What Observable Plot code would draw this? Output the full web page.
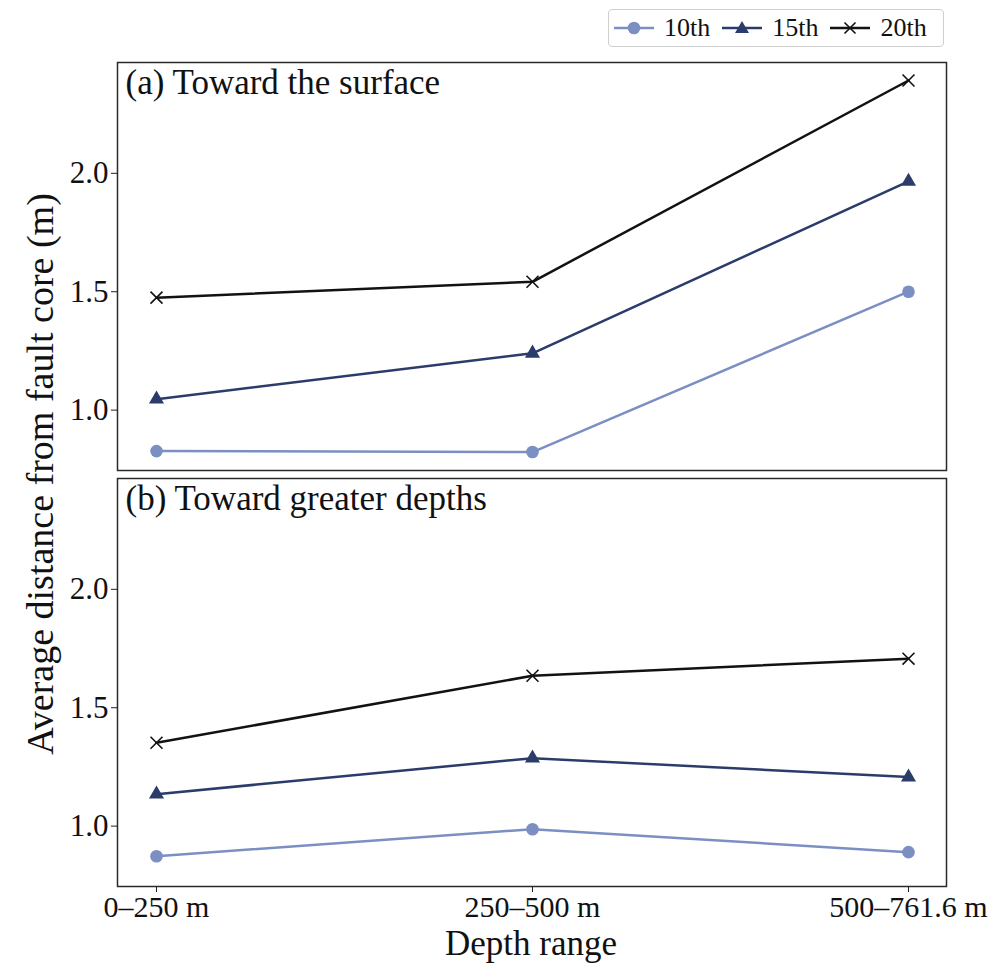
<!DOCTYPE html>
<html>
<head>
<meta charset="utf-8">
<script src="https://cdn.jsdelivr.net/npm/d3@7"></script>
<script src="https://cdn.jsdelivr.net/npm/@observablehq/plot@0.6"></script>
<style>
  html, body { margin: 0; padding: 0; background: #fff; }
  #wrap { position: relative; width: 1004px; height: 965px; font-family: "Liberation Serif", "Times New Roman", serif; }
  #legend { position: absolute; left: 608px; top: 9px; width: 336px; height: 38px; border: 1px solid #cfcfcf; border-radius: 4px; background: #fff;
            display: flex; align-items: center; font-size: 26px; color: #111; box-sizing: border-box; padding-left: 5px; }
  .item { display: flex; align-items: center; margin-right: 12px; }
  .item svg { margin-right: 10px; }
  #ylabel { position: absolute; left: -310px; top: 452px; width: 700px; height: 44px; line-height: 44px; text-align: center;
            transform: rotate(-90deg); font-size: 38px; color: #111; white-space: nowrap; }
  #xlabel { position: absolute; left: 331px; top: 929px; width: 400px; text-align: center; font-size: 35px; line-height: 30px; height: 30px; color: #111; white-space: nowrap; }
</style>
</head>
<body>
<div id="wrap">
  <div id="chart"></div>
  <div id="legend"></div>
  <div id="ylabel">Average distance from fault core (m)</div>
  <div id="xlabel">Depth range</div>
</div>
<script>
// ---- data ----
const categories = ["0–250 m", "250–500 m", "500–761.6 m"];
const seriesNames = ["10th", "15th", "20th"];
const seriesColors = ["#7b8fc2", "#2b3c6b", "#121212"];
const panels = ["(a) Toward the surface", "(b) Toward greater depths"];
const yTicks = [1.0, 1.5, 2.0];

// panel (a): toward the surface
const surface10 = [0.827, 0.823, 1.50];
const surface15 = [1.046, 1.240, 1.966];
const surface20 = [1.475, 1.542, 2.392];
// panel (b): toward greater depths
const depth10 = [0.873, 0.987, 0.890];
const depth15 = [1.135, 1.287, 1.207];
const depth20 = [1.352, 1.635, 1.707];

const rows = [];
function add(panel, name, vals) {
  vals.forEach((v, i) => rows.push({panel, series: name, depth: categories[i], value: v}));
}
add(panels[0], "10th", surface10);
add(panels[0], "15th", surface15);
add(panels[0], "20th", surface20);
add(panels[1], "10th", depth10);
add(panels[1], "15th", depth15);
add(panels[1], "20th", depth20);

const labels = panels.map(p => ({panel: p, label: p}));

const chart = Plot.plot({
  width: 1004,
  height: 965,
  marginLeft: 117,
  marginRight: 58,
  marginTop: 61,
  marginBottom: 79,
  style: {fontFamily: "'Liberation Serif', 'Times New Roman', serif", color: "#111", background: "#fff"},
  x: {type: "point", domain: categories, padding: 0.1},
  y: {domain: [0.745, 2.468]},
  fy: {domain: panels, paddingInner: 0.02, paddingOuter: 0, axis: null},
  color: {domain: seriesNames, range: seriesColors},
  marks: [
    Plot.frame({stroke: "#2a2a2a", strokeWidth: 1.5}),
    Plot.axisY({ticks: yTicks, tickFormat: d3.format(".1f"), tickSize: 6, tickPadding: 3, fontSize: 31, label: null, stroke: "#222"}),
    Plot.axisX({tickSize: 6, tickPadding: 3, fontSize: 30, label: null, stroke: "#222"}),
    Plot.line(rows, {x: "depth", y: "value", fy: "panel", z: "series", stroke: "series", strokeWidth: 2.5}),
    Plot.dot(rows.filter(d => d.series === "10th"), {x: "depth", y: "value", fy: "panel", r: 6.3, fill: seriesColors[0], stroke: "none"}),
    Plot.dot(rows.filter(d => d.series === "15th"), {x: "depth", y: "value", fy: "panel", symbol: "triangle", r: 5.6, fill: seriesColors[1], stroke: "none"}),
    Plot.dot(rows.filter(d => d.series === "20th"), {x: "depth", y: "value", fy: "panel", symbol: "times", r: 5.5, stroke: seriesColors[2], strokeWidth: 1.6, fill: "none"}),
    Plot.text(labels, {fy: "panel", text: "label", frameAnchor: "top-left", textAnchor: "start", lineAnchor: "top", dx: 8, dy: 7, fontSize: 35, fill: "#111"})
  ]
});
document.getElementById("chart").appendChild(chart);

// ---- legend ----
const legend = document.getElementById("legend");
const ns = "http://www.w3.org/2000/svg";
seriesNames.forEach((name, i) => {
  const item = document.createElement("div");
  item.className = "item";
  const svg = document.createElementNS(ns, "svg");
  svg.setAttribute("width", 40);
  svg.setAttribute("height", 20);
  const line = document.createElementNS(ns, "line");
  line.setAttribute("x1", 0); line.setAttribute("x2", 40);
  line.setAttribute("y1", 10); line.setAttribute("y2", 10);
  line.setAttribute("stroke", seriesColors[i]); line.setAttribute("stroke-width", 2.5);
  svg.appendChild(line);
  let m;
  if (i === 0) {
    m = document.createElementNS(ns, "circle");
    m.setAttribute("cx", 20); m.setAttribute("cy", 10); m.setAttribute("r", 6.3);
    m.setAttribute("fill", seriesColors[0]);
  } else if (i === 1) {
    m = document.createElementNS(ns, "path");
    m.setAttribute("d", "M20,3 L27,15 L13,15 Z");
    m.setAttribute("fill", seriesColors[1]);
  } else {
    m = document.createElementNS(ns, "path");
    m.setAttribute("d", "M14.5,4.5 L25.5,15.5 M25.5,4.5 L14.5,15.5");
    m.setAttribute("stroke", seriesColors[2]); m.setAttribute("stroke-width", 1.6);
  }
  svg.appendChild(m);
  item.appendChild(svg);
  const t = document.createElement("span");
  t.textContent = name;
  item.appendChild(t);
  legend.appendChild(item);
});
</script>
</body>
</html>
